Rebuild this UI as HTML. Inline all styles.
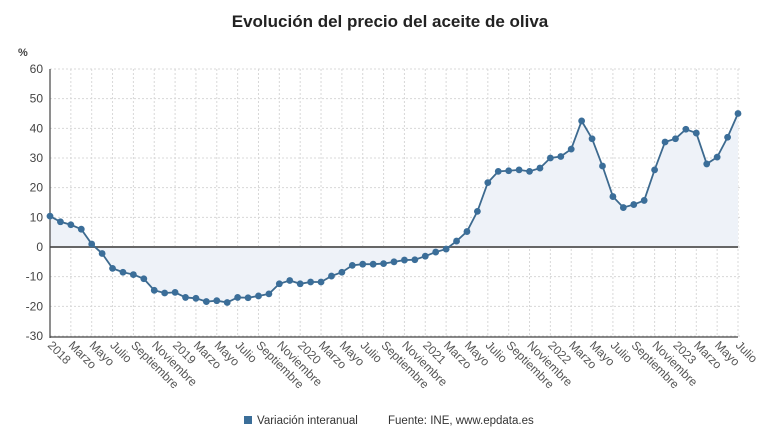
<!DOCTYPE html>
<html><head><meta charset="utf-8"><style>
body{margin:0;background:#fff;font-family:"Liberation Sans",sans-serif}
svg{display:block}
</style></head><body>
<svg id="c" width="780" height="440">
<text x="390" y="27" text-anchor="middle" font-size="17" font-weight="bold" fill="#222">Evolución del precio del aceite de oliva</text>
<text x="18" y="56" font-size="11" font-weight="bold" fill="#444">%</text>
<g id="plot"></g>
<rect x="244" y="416" width="8" height="8" fill="#3b6e99"/>
<text x="257" y="424" font-size="11.5" fill="#333">Variación interanual</text>
<text x="388" y="424" font-size="11.5" fill="#333">Fuente: INE, www.epdata.es</text>
</svg>
<script>
const values=[10.4,8.5,7.5,6,1,-2.2,-7.2,-8.5,-9.3,-10.7,-14.6,-15.5,
-15.3,-17,-17.3,-18.4,-18.1,-18.7,-17,-17.1,-16.5,-15.8,-12.4,-11.3,
-12.4,-11.8,-11.8,-9.8,-8.5,-6.2,-5.8,-5.8,-5.6,-5.0,-4.4,-4.3,
-3.1,-1.7,-0.7,2,5.2,12,21.7,25.5,25.7,26,25.5,26.6,
30,30.5,33,42.5,36.5,27.3,17,13.3,14.3,15.7,26,35.4,
36.5,39.7,38.4,28,30.3,37,45];
const xLabels=["2018","Marzo","Mayo","Julio","Septiembre","Noviembre","2019","Marzo","Mayo","Julio","Septiembre","Noviembre","2020","Marzo","Mayo","Julio","Septiembre","Noviembre","2021","Marzo","Mayo","Julio","Septiembre","Noviembre","2022","Marzo","Mayo","Julio","Septiembre","Noviembre","2023","Marzo","Mayo","Julio"];
const yTicks=[60,50,40,30,20,10,0,-10,-20,-30];
const NS="http://www.w3.org/2000/svg";
const g=document.getElementById('plot');
const X0=50,X1=738,Y60=69,Ym30=336;
const n=values.length;
function xs(i){return X0+(X1-X0)*i/(n-1);}
function ys(v){return Y60+(60-v)*(Ym30-Y60)/90;}
function el(t,a){const e=document.createElementNS(NS,t);for(const k in a)e.setAttribute(k,a[k]);g.appendChild(e);return e;}
yTicks.forEach(v=>{
 const l=el('line',{x1:X0,x2:X1+2,y1:ys(v),y2:ys(v),stroke:'#d8d8d8','stroke-dasharray':'2,2'});
 
 
 const t=el('text',{x:X0-7,y:ys(v)+4,'text-anchor':'end','font-size':12,fill:'#444'});
 t.textContent=v;
 
 
});
for(let i=0;i<n;i+=2){
 const l=el('line',{x1:xs(i),x2:xs(i),y1:Y60,y2:Ym30,stroke:'#d8d8d8','stroke-dasharray':'2,2'});
 
 
}
xLabels.forEach((s,k)=>{
 const x=xs(k*2);
 const t=el('text',{x:x-3,y:Ym30+10,'font-size':12,fill:'#555',transform:`rotate(45 ${x-3} ${Ym30+10})`});
 t.textContent=s;
 
 
});
let d=`M${xs(0)},${ys(0)}`;
values.forEach((v,i)=>d+=`L${xs(i)},${ys(v)}`);
d+=`L${xs(n-1)},${ys(0)}Z`;
const a=el('path',{d,fill:'#eef2f8'});


const z=el('line',{x1:X0,x2:X1,y1:ys(0),y2:ys(0),stroke:'#666','stroke-width':2});


const ax=el('line',{x1:X0,x2:X0,y1:Y60,y2:Ym30+2,stroke:'#444','stroke-width':1.2});


const bx=el('line',{x1:X0,x2:X1,y1:Ym30+1,y2:Ym30+1,stroke:'#444','stroke-width':1.2});


const ln=el('polyline',{points:values.map((v,i)=>xs(i)+','+ys(v)).join(' '),fill:'none',stroke:'#3d6a8f','stroke-width':1.8});


values.forEach((v,i)=>{
 const c=el('circle',{cx:xs(i),cy:ys(v),r:3.4,fill:'#3b6e99'});
 
 
});
</script>
</body></html>
